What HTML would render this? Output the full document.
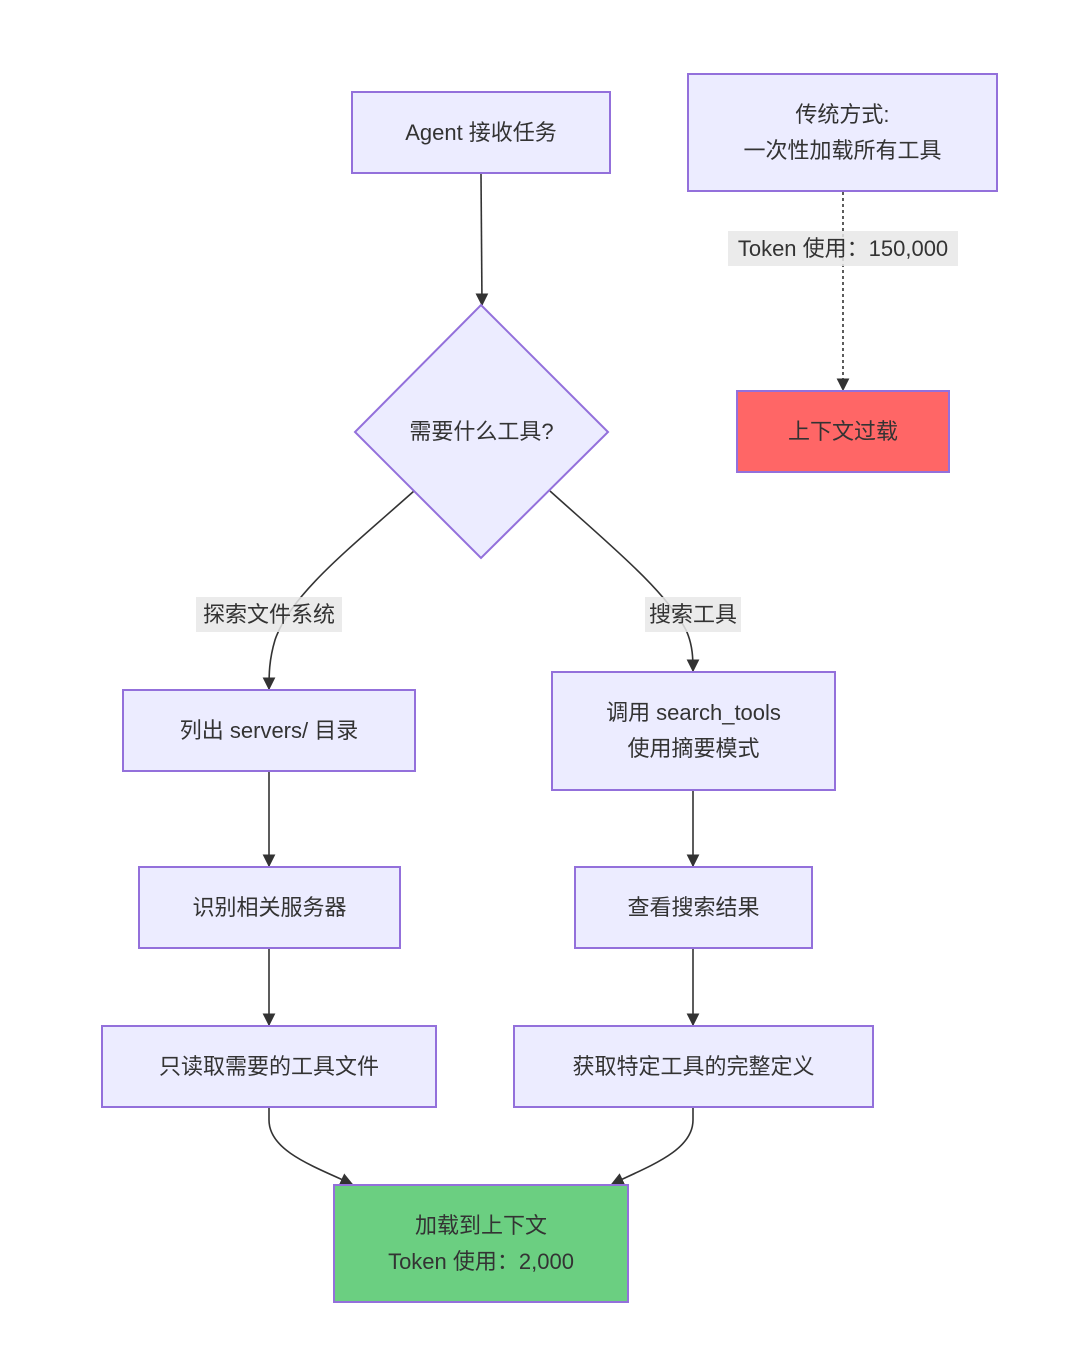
<!DOCTYPE html>
<html><head><meta charset="utf-8"><style>
body{margin:0;background:#fff;width:1070px;height:1370px;position:relative;overflow:hidden;font-family:"Liberation Sans","Noto Sans CJK SC",sans-serif;color:#333}
.n{position:absolute;box-sizing:border-box;background:#ECECFF;border:2px solid #9370DB;display:flex;align-items:center;justify-content:center;text-align:center;font-size:22px;line-height:36px}
.l{position:absolute;background:rgba(232,232,232,0.85);font-size:22px;line-height:35px;text-align:center;color:#333}
svg{position:absolute;left:0;top:0}
</style></head><body>
<svg width="1070" height="1370">
<defs><marker id="a" viewBox="0 0 10 10" refX="9" refY="5" markerWidth="8" markerHeight="8" orient="auto"><path d="M0,0L10,5L0,10z" fill="#333"/></marker></defs>
<g fill="none" stroke="#333" stroke-width="1.6">
<path d="M481,174 L482,305" marker-end="url(#a)"/>
<path d="M843,192 L843,390" stroke-dasharray="3,3" marker-end="url(#a)"/>
<path d="M414,491 C350,548 290,595 275,640 C269,660 269,675 269,689" marker-end="url(#a)"/>
<path d="M550,491 C610,545 665,590 686,630 C693,645 693,660 693,671" marker-end="url(#a)"/>
<path d="M269,771 L269,866" marker-end="url(#a)"/>
<path d="M269,948 L269,1025" marker-end="url(#a)"/>
<path d="M693,790 L693,866" marker-end="url(#a)"/>
<path d="M693,948 L693,1025" marker-end="url(#a)"/>
<path d="M269,1107 L269,1120 C269,1150 310,1165 352,1184" marker-end="url(#a)"/>
<path d="M693,1107 L693,1120 C693,1150 652,1165 612,1184" marker-end="url(#a)"/>
</g>
<polygon points="481,305 608,432 481,558 355,432" fill="#ECECFF" stroke="#9370DB" stroke-width="2"/>
</svg>
<div class="n" style="left:351px;top:91px;width:260px;height:83px">Agent 接收任务</div>
<div class="n" style="left:687px;top:73px;width:311px;height:119px">传统方式:<br>一次性加载所有工具</div>
<div class="l" style="left:728px;top:231px;width:230px">Token 使用：150,000</div>
<div class="n" style="left:736px;top:390px;width:214px;height:83px;background:#FF6666">上下文过载</div>
<div style="position:absolute;left:355px;top:414px;width:253px;text-align:center;font-size:22px;line-height:36px">需要什么工具?</div>
<div class="l" style="left:196px;top:597px;width:146px">探索文件系统</div>
<div class="l" style="left:645px;top:597px;width:96px">搜索工具</div>
<div class="n" style="left:122px;top:689px;width:294px;height:83px">列出 servers/ 目录</div>
<div class="n" style="left:551px;top:671px;width:285px;height:120px">调用 search_tools<br>使用摘要模式</div>
<div class="n" style="left:138px;top:866px;width:263px;height:83px">识别相关服务器</div>
<div class="n" style="left:574px;top:866px;width:239px;height:83px">查看搜索结果</div>
<div class="n" style="left:101px;top:1025px;width:336px;height:83px">只读取需要的工具文件</div>
<div class="n" style="left:513px;top:1025px;width:361px;height:83px">获取特定工具的完整定义</div>
<div class="n" style="left:333px;top:1184px;width:296px;height:119px;background:#6BCF81">加载到上下文<br>Token 使用：2,000</div>
</body></html>
